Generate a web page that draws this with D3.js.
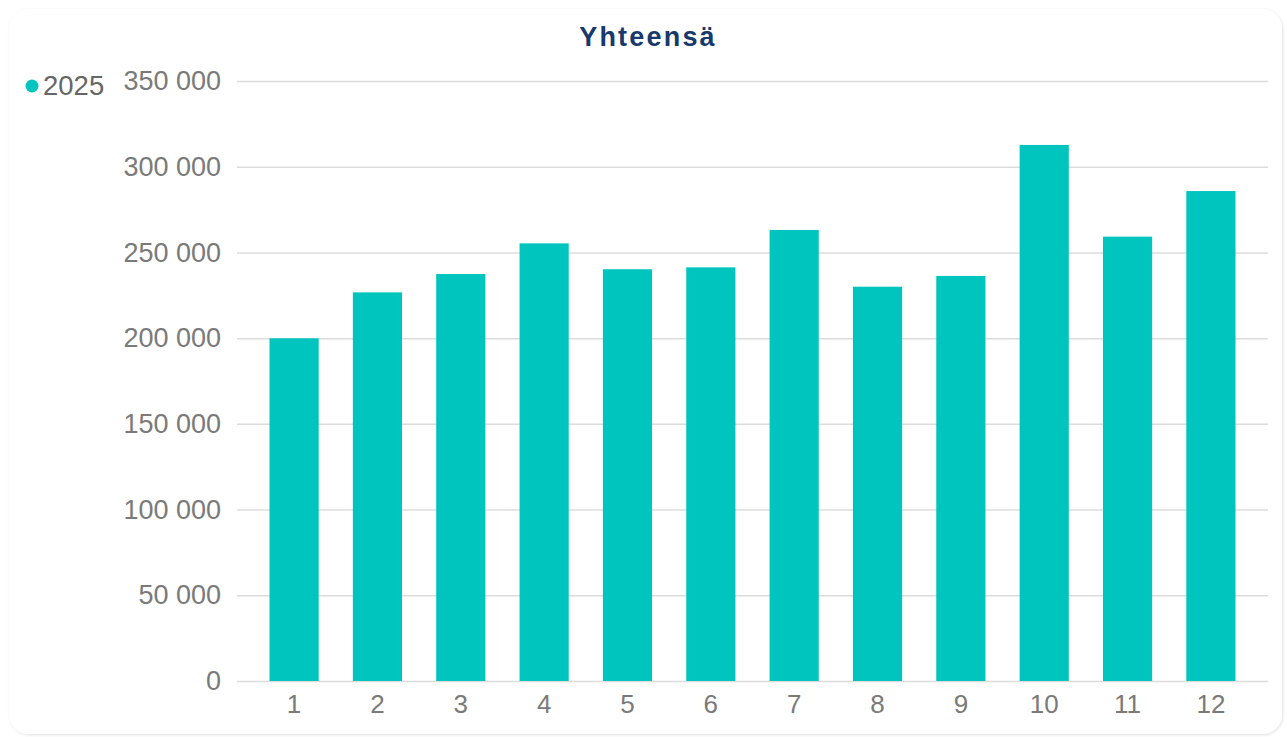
<!DOCTYPE html>
<html>
<head>
<meta charset="utf-8">
<script src="https://cdn.jsdelivr.net/npm/d3@7"></script>
<style>
  body { margin: 0; background: #fff; }
  svg { display: block; font-family: "Liberation Sans", Arial, sans-serif; }
</style>
</head>
<body>
<div id="chart"></div>
<script>
const months = ["1", "2", "3", "4", "5", "6", "7", "8", "9", "10", "11", "12"]
const values2025 = [199900, 226700, 237400, 255300, 240200, 241300, 263100, 230000, 236300, 312700, 259200, 285800]
const yTicks = [0, 50000, 100000, 150000, 200000, 250000, 300000, 350000]
const seriesName = "2025"
const chartTitle = "Yhteensä"

const width = 1287, height = 737
const margin = { top: 81, right: 19, bottom: 56, left: 237 }

const barColor = "#00c5be"

const svg = d3.select("#chart")
    .append("svg")
    .attr("width", width)
    .attr("height", height)

// soft card shadow
const defs = svg.append("defs")
const filter = defs.append("filter").attr("id", "shadow")
    .attr("x", "-5%").attr("y", "-5%").attr("width", "110%").attr("height", "110%")
filter.append("feDropShadow")
    .attr("dx", 1).attr("dy", 1).attr("stdDeviation", 1.5)
    .attr("flood-color", "#000").attr("flood-opacity", 0.12)

svg.append("rect")
    .attr("x", 9).attr("y", 9)
    .attr("width", 1273).attr("height", 725)
    .attr("rx", 20)
    .attr("fill", "#fff")
    .attr("filter", "url(#shadow)")

const yScale = d3.scaleLinear()
    .domain([0, 350000])
    .range([height - margin.bottom, margin.top])

const xScale = d3.scaleBand()
    .domain(months)
    .range([margin.left, width - margin.right])
    .paddingInner(0.41)
    .paddingOuter(0.39)

const fmt = d => d3.format(",")(d).replace(/,/g, " ")

// gridlines + y labels
const yAxis = d3.axisLeft(yScale)
    .tickValues(yTicks)
    .tickSize(-(width - margin.left - margin.right))
    .tickPadding(16)
    .tickFormat(fmt)

svg.append("g")
    .attr("class", "y-axis")
    .attr("transform", `translate(${margin.left},0)`)
    .call(yAxis)
    .call(g => g.select(".domain").remove())
    .call(g => g.selectAll(".tick line").attr("stroke", "#dcdcdc").attr("stroke-width", 1.5))
    .call(g => g.selectAll(".tick text")
        .attr("fill", "#7a7a7a")
        .attr("font-size", 27)
        .attr("font-family", "'Liberation Sans', Arial, sans-serif"))

// bars
svg.selectAll(".bar")
    .data(values2025)
    .enter().append("rect")
    .attr("class", "bar")
    .attr("x", (d, i) => xScale(months[i]))
    .attr("y", d => yScale(d))
    .attr("width", xScale.bandwidth())
    .attr("height", d => yScale(0) - yScale(d))
    .attr("fill", barColor)

// x axis
const xAxis = d3.axisBottom(xScale).tickSize(0).tickPadding(14)
svg.append("g")
    .attr("class", "x-axis")
    .attr("transform", `translate(0,${height - margin.bottom})`)
    .call(xAxis)
    .call(g => g.select(".domain").remove())
    .call(g => g.selectAll(".tick text")
        .attr("fill", "#7a7a7a")
        .attr("font-size", 26)
        .attr("font-family", "'Liberation Sans', Arial, sans-serif"))

// title
svg.append("text")
    .attr("x", 648)
    .attr("y", 46)
    .attr("text-anchor", "middle")
    .attr("font-size", 27)
    .attr("font-weight", "bold")
    .attr("letter-spacing", 2.2)
    .attr("fill", "#17396b")
    .text(chartTitle)

// legend
svg.append("circle")
    .attr("cx", 32).attr("cy", 86).attr("r", 6.5)
    .attr("fill", barColor)
svg.append("text")
    .attr("x", 43).attr("y", 95)
    .attr("font-size", 27.5)
    .attr("fill", "#666")
    .text(seriesName)
</script>
</body>
</html>
